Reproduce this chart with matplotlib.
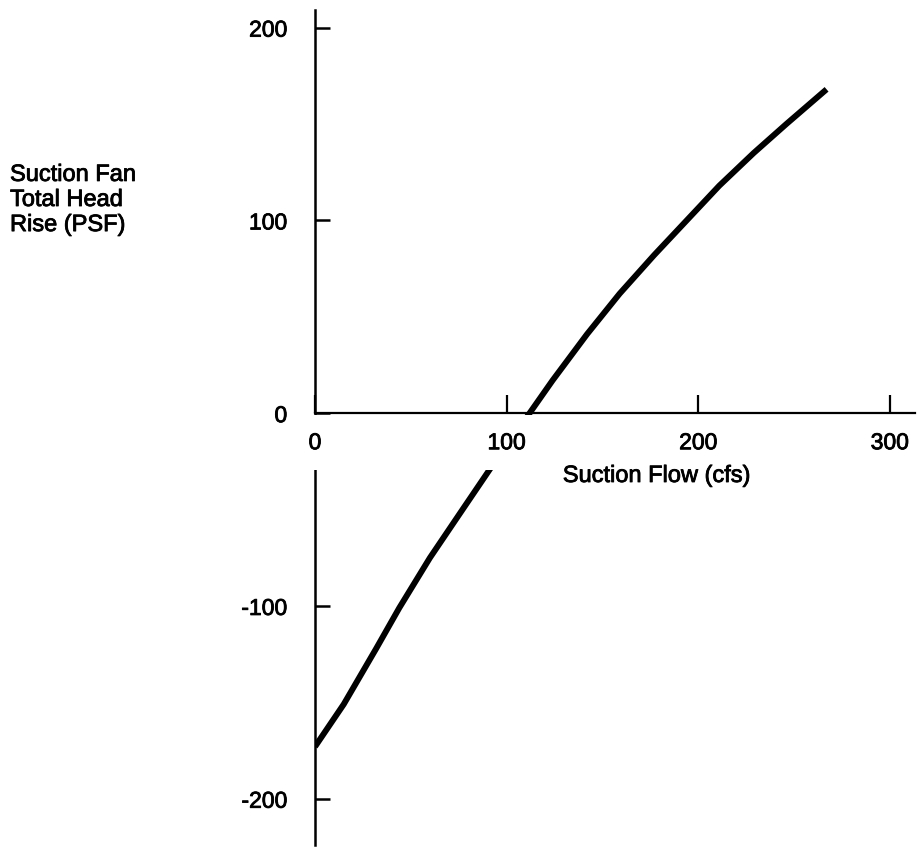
import matplotlib
matplotlib.use("Agg")
import matplotlib.pyplot as plt
import matplotlib.patheffects as pe

plt.rcParams['font.family'] = ['Liberation Sans', 'DejaVu Sans']

# fan curve: suction flow (cfs) vs total head rise (PSF)
flow = [0, 15, 32, 44, 60, 77, 92, 112, 124, 142, 159, 177, 194, 211, 229, 246, 267]
head = [-173, -151, -122, -101, -75, -50, -28, 0, 17, 41, 62, 82, 100, 118, 135, 150, 168]

xticks = [0, 100, 200, 300]
yticks = [-200, -100, 0, 100, 200]

# scanned print look: slightly heavy lettering
heavy = [pe.withStroke(linewidth=0.6, foreground='black')]

fig = plt.figure(figsize=(9.17, 8.5), dpi=100)
ax = fig.add_axes([0.3435, 0.0059, 0.654, 0.982])

ax.plot(flow, head, color='black', lw=4.3, solid_capstyle='butt', solid_joinstyle='round', zorder=2)

ax.set_xlim(0, 313)
ax.set_ylim(-224, 209)

# x axis runs through zero, y axis down the left
for side in ['top', 'right']:
    ax.spines[side].set_visible(False)
ax.spines['bottom'].set_position(('data', 0))
ax.spines['bottom'].set_linewidth(1.6)
ax.spines['left'].set_linewidth(1.8)

ax.set_xticks(xticks)
ax.set_yticks(yticks)
ax.set_xticklabels([str(v) for v in xticks])
ax.set_yticklabels([str(v) for v in yticks])
ax.tick_params(axis='x', direction='in', length=13, width=1.6, pad=13, labelsize=16.5)
ax.tick_params(axis='y', direction='in', length=11, width=1.8, pad=20, labelsize=16.5)
for lab in ax.get_xticklabels() + ax.get_yticklabels():
    lab.set_path_effects(heavy)
ax.xaxis.set_zorder(4)

# blank strip under the x axis holding the flow labels
ax.axhspan(-29.5, -1.2, xmin=-0.01, xmax=1.0, color='white', lw=0, zorder=3, clip_on=False)

fig.text(657 / 917, 1 - 476 / 850, 'Suction Flow (cfs)', ha='center', va='center', fontsize=17,
         path_effects=heavy)
fig.text(10 / 917, 1 - 200 / 850, 'Suction Fan\nTotal Head\nRise (PSF)', ha='left', va='center',
         fontsize=17, linespacing=1.18, path_effects=heavy)

fig.savefig('out.png', dpi=100, facecolor='white')
